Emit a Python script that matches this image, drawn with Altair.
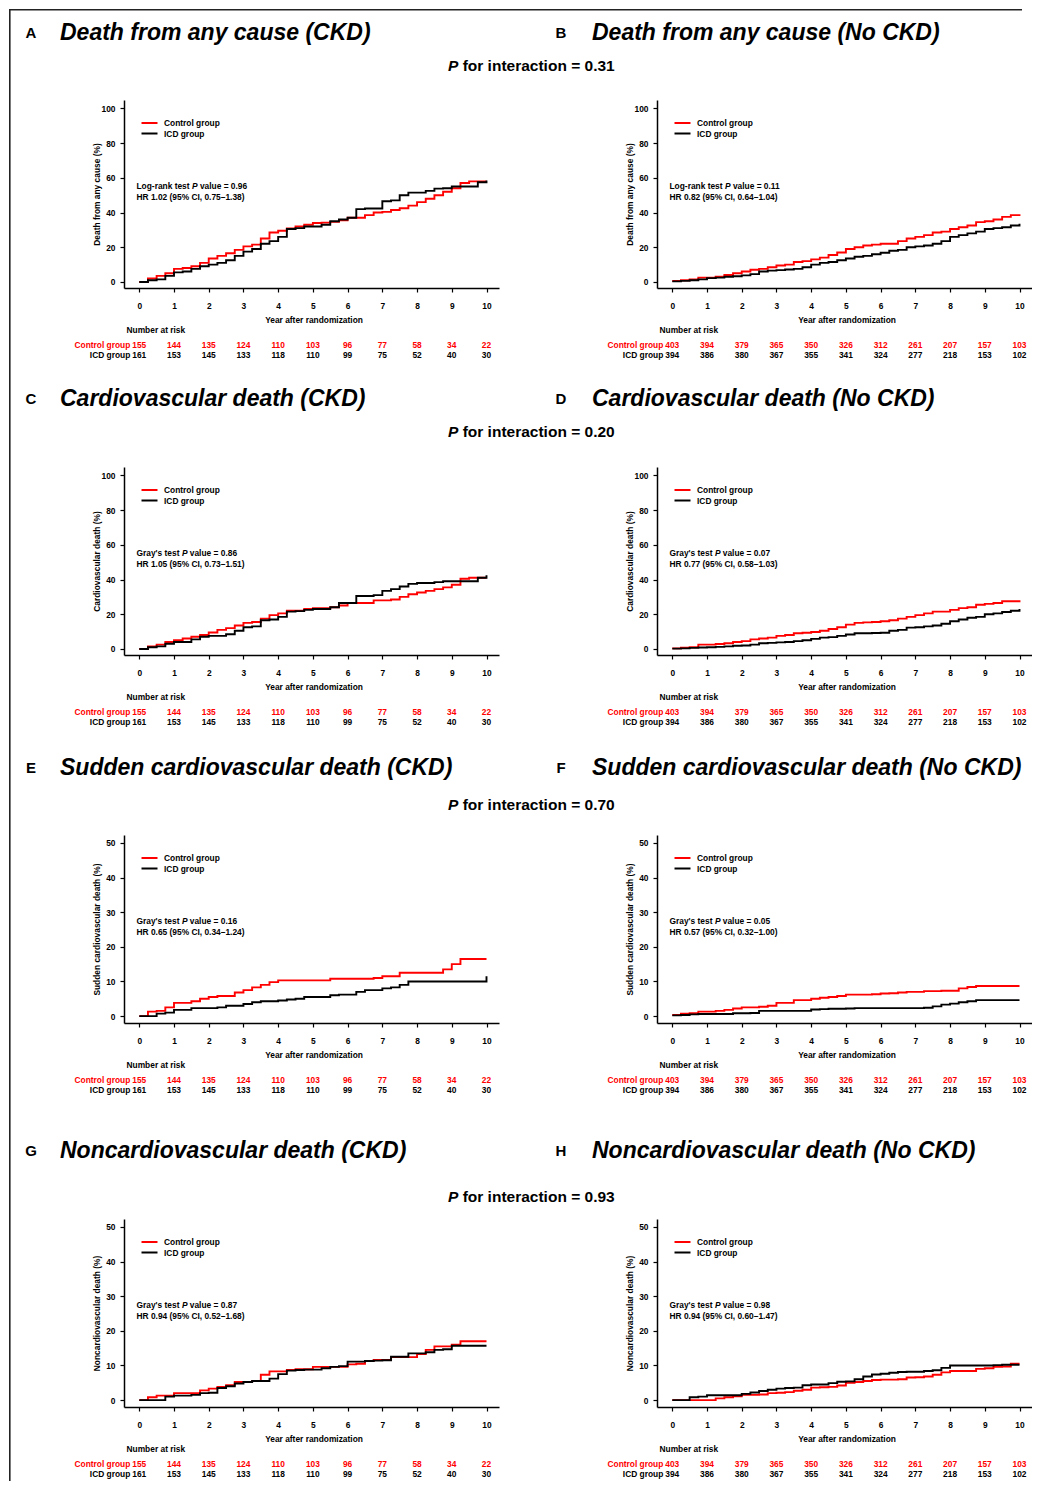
import altair as alt
import pandas as pd

FONT = "Liberation Sans"
RED = "#FF0000"
BLACK = "#000000"
FS = 8.4

# ---------------- data ----------------
TIMES = [0, 0.25, 0.5, 0.75, 1, 1.25, 1.5, 1.75, 2, 2.25, 2.5, 2.75, 3, 3.25, 3.5, 3.75,
         4, 4.25, 4.5, 4.75, 5, 5.25, 5.5, 5.75, 6, 6.25, 6.5, 6.75, 7, 7.25, 7.5, 7.75,
         8, 8.25, 8.5, 8.75, 9, 9.25, 9.5, 9.75, 10]
YEARS = [0, 1, 2, 3, 4, 5, 6, 7, 8, 9, 10]

A_CTRL = [0, 2.0, 3.5, 5.0, 7.5, 8.0, 9.0, 11.0, 13.5, 15.0, 16.5, 18.5, 20.5, 21.5, 25.0, 28.5,
          29.5, 30.8, 32.0, 33.0, 34.0, 34.2, 34.6, 35.5, 37.0, 37.0, 38.5, 40.0, 40.4, 41.5, 42.5,
          44.0, 46.0, 48.0, 50.0, 52.0, 54.0, 57.0, 58.0, 58.0, 58.0]
A_ICD = [0, 1.0, 1.5, 3.5, 5.5, 6.0, 7.5, 9.0, 10.0, 11.0, 12.5, 15.0, 17.5, 19.0, 22.0, 23.5,
         26.0, 30.5, 31.0, 32.0, 32.0, 33.0, 35.0, 36.0, 37.0, 42.0, 42.3, 42.3, 46.5, 47.0, 50.0,
         51.5, 51.5, 52.5, 53.8, 54.0, 55.0, 55.0, 55.0, 57.5, 58.5]
B_CTRL = [0.5, 1.0, 1.5, 2.5, 2.5, 3.0, 4.0, 5.0, 6.0, 7.0, 7.5, 8.5, 9.5, 10.0, 11.5, 12.0,
          13.0, 14.0, 15.5, 17.0, 19.0, 20.0, 21.0, 21.5, 22.0, 22.0, 23.5, 25.0, 26.0, 27.0, 28.5,
          29.0, 30.5, 31.5, 32.5, 34.5, 35.0, 36.0, 37.5, 38.5, 39.0]
B_ICD = [0.3, 0.6, 1.0, 1.5, 2.2, 2.5, 3.0, 3.3, 3.8, 4.5, 6.0, 6.5, 6.8, 7.2, 7.5, 8.5,
         10.0, 11.0, 11.5, 12.5, 13.5, 14.5, 15.0, 16.0, 16.8, 18.0, 18.5, 20.0, 20.5, 21.0, 22.0,
         23.5, 26.0, 27.0, 28.0, 29.0, 30.5, 31.0, 31.5, 32.5, 33.5]
C_CTRL = [0, 1.5, 2.5, 4.0, 5.0, 6.0, 7.0, 8.0, 9.5, 11.0, 12.0, 13.5, 15.0, 15.5, 17.5, 19.5,
          20.5, 22.0, 22.0, 23.0, 23.5, 23.5, 24.0, 25.0, 26.5, 26.5, 26.5, 28.0, 28.0, 28.5, 30.0,
          31.5, 32.5, 33.5, 34.5, 35.5, 37.0, 40.5, 41.0, 41.0, 41.0]
C_ICD = [0, 1.0, 1.5, 3.0, 4.0, 4.0, 5.5, 7.0, 7.5, 7.5, 8.5, 10.5, 12.5, 13.0, 16.5, 17.0,
         18.5, 21.5, 21.8, 22.5, 23.0, 23.0, 24.0, 26.5, 26.5, 30.5, 30.5, 31.0, 33.5, 34.5, 36.0,
         37.5, 38.0, 38.0, 38.5, 39.0, 39.0, 39.0, 39.0, 41.0, 42.5]
D_CTRL = [0.3, 0.7, 1.0, 2.5, 2.5, 2.8, 3.3, 4.0, 4.5, 5.5, 6.0, 6.5, 7.5, 8.0, 9.0, 9.3,
          9.8, 10.5, 11.5, 12.5, 14.0, 15.0, 15.3, 15.5, 16.0, 16.5, 17.5, 18.5, 19.5, 20.5, 21.5,
          21.5, 22.5, 23.5, 24.0, 25.5, 26.0, 26.5, 27.5, 27.5, 28.0]
D_ICD = [0.2, 0.3, 0.6, 0.8, 1.0, 1.2, 1.5, 1.8, 2.0, 2.5, 3.3, 3.5, 3.8, 4.0, 4.5, 5.0,
         5.8, 6.5, 6.8, 7.5, 8.3, 9.0, 9.0, 9.2, 9.3, 10.5, 11.0, 12.3, 12.5, 13.0, 13.5,
         14.5, 16.0, 17.0, 18.0, 18.5, 20.0, 20.5, 21.3, 22.0, 23.0]
E_CTRL = [0, 1.3, 1.5, 2.5, 3.8, 3.8, 4.3, 5.0, 5.5, 5.8, 5.8, 6.8, 7.5, 8.3, 9.0, 9.8,
          10.3, 10.3, 10.3, 10.3, 10.3, 10.3, 10.8, 10.8, 10.8, 10.8, 10.8, 11.0, 11.5, 11.5, 12.5,
          12.5, 12.5, 12.5, 12.5, 13.5, 15.0, 16.5, 16.5, 16.5, 16.5]
E_ICD = [0, 0, 0.7, 1.0, 1.8, 1.8, 2.3, 2.3, 2.3, 2.5, 3.0, 3.0, 3.5, 4.0, 4.3, 4.3,
         4.5, 4.8, 5.0, 5.5, 5.5, 5.5, 6.0, 6.2, 6.2, 7.0, 7.5, 7.5, 8.0, 8.3, 9.0,
         10.0, 10.0, 10.0, 10.0, 10.0, 10.0, 10.0, 10.0, 10.0, 11.5]
F_CTRL = [0.3, 0.7, 0.8, 1.3, 1.3, 1.5, 1.8, 2.2, 2.5, 2.5, 2.7, 3.0, 3.8, 3.8, 4.6, 4.6,
          5.0, 5.3, 5.5, 5.8, 6.2, 6.2, 6.2, 6.3, 6.5, 6.6, 6.8, 7.0, 7.0, 7.2, 7.2,
          7.3, 7.3, 8.0, 8.4, 8.7, 8.7, 8.7, 8.7, 8.7, 8.7]
F_ICD = [0.2, 0.3, 0.5, 0.6, 0.6, 0.6, 0.6, 0.8, 0.8, 0.9, 1.5, 1.5, 1.5, 1.5, 1.5, 1.5,
         1.9, 2.0, 2.1, 2.1, 2.2, 2.3, 2.3, 2.3, 2.3, 2.3, 2.3, 2.3, 2.3, 2.4, 2.8,
         3.3, 3.6, 4.0, 4.3, 4.6, 4.6, 4.6, 4.6, 4.6, 4.6]
G_CTRL = [0, 0.8, 1.3, 1.3, 2.0, 2.0, 2.0, 2.8, 3.3, 3.8, 4.3, 5.2, 5.2, 5.5, 7.3, 8.3,
          8.3, 8.7, 8.9, 8.9, 9.6, 9.6, 9.6, 9.6, 10.3, 10.5, 11.3, 11.6, 11.6, 12.4, 12.4,
          12.4, 13.3, 14.5, 15.5, 15.5, 16.0, 17.0, 17.0, 17.0, 17.0]
G_ICD = [0, 0, 0, 1.0, 1.3, 1.3, 1.5, 2.0, 2.1, 3.5, 4.0, 4.8, 5.2, 5.5, 5.5, 6.2,
         7.5, 8.5, 8.7, 8.8, 8.8, 9.2, 9.6, 9.8, 11.1, 11.1, 11.3, 11.4, 11.5, 12.5, 12.5,
         13.5, 13.5, 13.8, 14.5, 14.7, 15.7, 15.7, 15.7, 15.7, 15.7]
H_CTRL = [0, 0, 0, 0, 0, 0.5, 0.8, 1.1, 1.5, 1.5, 1.6, 2.0, 2.1, 2.3, 2.7, 3.0,
          3.6, 3.7, 3.8, 4.2, 5.0, 5.2, 5.5, 5.8, 5.9, 5.9, 6.0, 6.5, 6.6, 6.8, 7.3,
          8.0, 8.4, 8.4, 8.4, 9.0, 9.2, 9.6, 9.7, 10.5, 10.5]
H_ICD = [0, 0, 0.8, 1.0, 1.4, 1.4, 1.4, 1.4, 1.8, 2.2, 2.6, 3.0, 3.3, 3.5, 3.6, 4.3,
         4.5, 4.5, 4.9, 5.3, 5.4, 6.0, 6.8, 7.4, 7.6, 7.9, 8.1, 8.2, 8.2, 8.4, 8.6,
         9.3, 10.0, 10.0, 10.0, 10.0, 10.0, 10.1, 10.2, 10.2, 10.2]

RISK_CTRL_CKD = [155, 144, 135, 124, 110, 103, 96, 77, 58, 34, 22]
RISK_ICD_CKD = [161, 153, 145, 133, 118, 110, 99, 75, 52, 40, 30]
RISK_CTRL_NOCKD = [403, 394, 379, 365, 350, 326, 312, 261, 207, 157, 103]
RISK_ICD_NOCKD = [394, 386, 380, 367, 355, 341, 324, 277, 218, 153, 102]

LETTERS = ["A", "B", "C", "D", "E", "F", "G", "H"]
TITLES = ["Death from any cause (CKD)", "Death from any cause (No CKD)",
          "Cardiovascular death (CKD)", "Cardiovascular death (No CKD)",
          "Sudden cardiovascular death (CKD)", "Sudden cardiovascular death (No CKD)",
          "Noncardiovascular death (CKD)", "Noncardiovascular death (No CKD)"]
Y_TITLES = ["Death from any cause (%)", "Cardiovascular death (%)",
            "Sudden cardiovascular death (%)", "Noncardiovascular death (%)"]
TESTS = ["Log-rank test", "Log-rank test", "Gray's test", "Gray's test",
         "Gray's test", "Gray's test", "Gray's test", "Gray's test"]
P_VALUES = ["0.96", "0.11", "0.86", "0.07", "0.16", "0.05", "0.87", "0.98"]
HR_TEXTS = ["HR 1.02 (95% CI, 0.75\u20131.38)", "HR 0.82 (95% CI, 0.64\u20131.04)",
            "HR 1.05 (95% CI, 0.73\u20131.51)", "HR 0.77 (95% CI, 0.58\u20131.03)",
            "HR 0.65 (95% CI, 0.34\u20131.24)", "HR 0.57 (95% CI, 0.32\u20131.00)",
            "HR 0.94 (95% CI, 0.52\u20131.68)", "HR 0.94 (95% CI, 0.60\u20131.47)"]
INTERACTION_P = ["0.31", "0.20", "0.70", "0.93"]
CTRL_CURVES = [A_CTRL, B_CTRL, C_CTRL, D_CTRL, E_CTRL, F_CTRL, G_CTRL, H_CTRL]
ICD_CURVES = [A_ICD, B_ICD, C_ICD, D_ICD, E_ICD, F_ICD, G_ICD, H_ICD]
Y_MAX = [100, 100, 100, 100, 50, 50, 50, 50]
GROUPS = ["Control group", "ICD group"]

# ---------------- layout constants ----------------
W, H = 375, 188
XDOM = [-0.44, 10.36]
SPACER_H = [91, 179, 180, 196]
HEAD_Y = [24, 111, 112.5, 128]
PINT_Y = [57, 144, 150, 174]
TEST_W = {"Log-rank test": 55.5, "Gray's test": 45.4}   # incl. trailing space, 8.4px bold
P_W = 5.6 + 2.3                                          # "P" + space
TITLE_FS = 23
PINT_FS = 15.5
COL_GAP = 533 - W

one = pd.DataFrame({"k": [0]})


def txt(s, x, y, size=FS, weight="bold", style="normal", align="left", color=BLACK):
    return alt.Chart(one).mark_text(
        text=s, font=FONT, fontSize=size, fontWeight=weight, fontStyle=style,
        align=align, baseline="middle", color=color
    ).encode(x=alt.value(x), y=alt.value(y))


def hrule(x1, x2, y, color, width=2.0):
    return alt.Chart(one).mark_rule(color=color, strokeWidth=width).encode(
        x=alt.value(x1), x2=alt.value(x2), y=alt.value(y))


def panel(i):
    ckd = i % 2 == 0
    if Y_MAX[i] == 100:
        ydom, yticks = [-3.5, 104.9], [0, 20, 40, 60, 80, 100]
    else:
        ydom, yticks = [-2.0, 52.3], [0, 10, 20, 30, 40, 50]
    n = len(TIMES)
    df = pd.DataFrame({"t": TIMES + TIMES,
                       "v": CTRL_CURVES[i] + ICD_CURVES[i],
                       "g": [GROUPS[0]] * n + [GROUPS[1]] * n})
    xenc = alt.X("t:Q", scale=alt.Scale(domain=XDOM, nice=False, zero=False),
                 axis=alt.Axis(values=YEARS, format="d", title="Year after randomization",
                               tickSize=4, labelPadding=9, titlePadding=6, labelFlush=False,
                               titleX=189.5, grid=False))
    yenc = alt.Y("v:Q", scale=alt.Scale(domain=ydom, nice=False, zero=False),
                 axis=alt.Axis(values=yticks, format="d", title=Y_TITLES[i // 2],
                               tickSize=4, labelPadding=5, titleX=-22.5, labelFlush=False,
                               grid=False))
    lines = alt.Chart(df).mark_line(interpolate="step-after", strokeWidth=1.9).encode(
        x=xenc, y=yenc,
        color=alt.Color("g:N", scale=alt.Scale(domain=GROUPS, range=[RED, BLACK]), legend=None))

    rc = RISK_CTRL_CKD if ckd else RISK_CTRL_NOCKD
    ri = RISK_ICD_CKD if ckd else RISK_ICD_NOCKD
    risk_c = alt.Chart(pd.DataFrame({"t": YEARS, "n": rc})).mark_text(
        font=FONT, fontSize=FS, fontWeight="bold", color=RED, baseline="middle"
    ).encode(x=xenc, y=alt.value(244.7), text="n:N")
    risk_i = alt.Chart(pd.DataFrame({"t": YEARS, "n": ri})).mark_text(
        font=FONT, fontSize=FS, fontWeight="bold", color=BLACK, baseline="middle"
    ).encode(x=xenc, y=alt.value(254.7), text="n:N")

    tx = 12.5
    layers = [
        lines,
        hrule(17.5, 33.5, 23, RED), hrule(17.5, 33.5, 33.5, BLACK),
        txt(GROUPS[0], 40, 23), txt(GROUPS[1], 40, 33.5),
        txt(TESTS[i], tx, 86),
        txt("P", tx + TEST_W[TESTS[i]], 86, style="italic"),
        txt("value = " + P_VALUES[i], tx + TEST_W[TESTS[i]] + P_W, 86),
        txt(HR_TEXTS[i], tx, 96.5),
        txt("Number at risk", 2.5, 230),
        txt(GROUPS[0], 6.3, 244.7, align="right", color=RED),
        txt(GROUPS[1], 6.3, 254.7, align="right"),
        risk_c, risk_i,
    ]
    return alt.layer(*layers).properties(width=W, height=H)


def spacer(row, side):
    i = row * 2 + side
    layers = []
    if side == 0:
        px = 324
        layers += [txt(LETTERS[i], -93, HEAD_Y[row], size=15, align="center"),
                   txt(TITLES[i], -64, HEAD_Y[row], size=TITLE_FS, style="italic"),
                   txt("P", px, PINT_Y[row], size=PINT_FS, style="italic"),
                   txt("for interaction = " + INTERACTION_P[row],
                       px + 0.667 * PINT_FS + 0.278 * PINT_FS, PINT_Y[row], size=PINT_FS)]
        if row == 0:
            layers += [
                alt.Chart(one).mark_rule(color="#222222", strokeWidth=1.6).encode(
                    x=alt.value(-114.2), y=alt.value(0), y2=alt.value(1472)),
                alt.Chart(one).mark_rule(color="#222222", strokeWidth=1.6).encode(
                    x=alt.value(-115), x2=alt.value(898), y=alt.value(0.8)),
            ]
    else:
        layers += [txt(LETTERS[i], -96, HEAD_Y[row], size=15, align="center"),
                   txt(TITLES[i], -65, HEAD_Y[row], size=TITLE_FS, style="italic")]
    return alt.layer(*layers).properties(width=W, height=SPACER_H[row])


charts = []
for r in range(4):
    charts += [spacer(r, 0), spacer(r, 1), panel(2 * r), panel(2 * r + 1)]

chart = alt.concat(*charts, columns=2, spacing={"row": 0, "column": COL_GAP},
                   bounds="flush").properties(padding=0).configure_view(
    stroke=None).configure_axis(
    labelFont=FONT, labelFontSize=FS, labelFontWeight="bold", labelColor=BLACK,
    titleFont=FONT, titleFontSize=FS, titleFontWeight="bold", titleColor=BLACK,
    domainColor=BLACK, domainWidth=1.5, tickColor=BLACK, tickWidth=1.2)

chart.save("out.html", embed_options={"renderer": "svg", "actions": False})
